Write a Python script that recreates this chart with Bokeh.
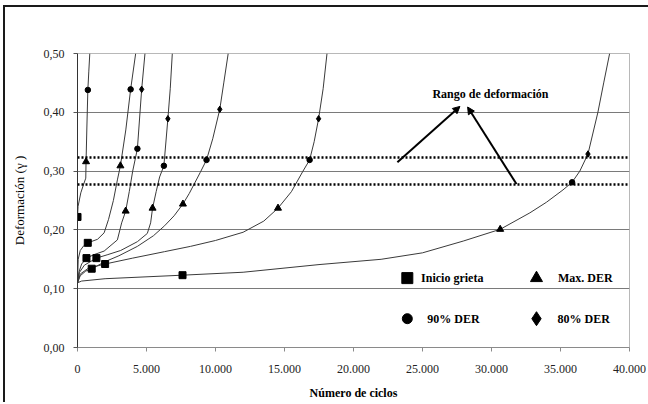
from bokeh.plotting import figure
from bokeh.models import Range1d, FixedTicker, Span, Arrow, NormalHead
from bokeh.core.properties import value
from bokeh.embed import file_html
from bokeh.resources import INLINE

# ---------------- data ----------------
x_ticks = [0, 5000, 10000, 15000, 20000, 25000, 30000, 35000, 40000]
x_tick_labels = ["0", "5.000", "10.000", "15.000", "20.000", "25.000", "30.000", "35.000", "40.000"]
y_ticks = [0.0, 0.1, 0.2, 0.3, 0.4, 0.5]
y_tick_labels = ["0,00", "0,10", "0,20", "0,30", "0,40", "0,50"]

curve_a_x = [0, 0, 40, 240, 450, 600, 620, 680, 750, 820, 890]
curve_a_y = [0.110, 0.222, 0.240, 0.263, 0.278, 0.288, 0.316, 0.375, 0.438, 0.470, 0.500]
curve_b_x = [0, 50, 200, 450, 745, 1450, 1930, 2250, 2600, 2890, 3110, 3500, 3850, 4215]
curve_b_y = [0.110, 0.150, 0.165, 0.173, 0.178, 0.184, 0.195, 0.218, 0.250, 0.285, 0.309, 0.370, 0.439, 0.500]
curve_c_x = [0, 100, 300, 650, 1200, 1930, 2890, 3200, 3490, 3750, 4000, 4340, 4650, 4890]
curve_c_y = [0.110, 0.128, 0.142, 0.152, 0.158, 0.164, 0.183, 0.212, 0.232, 0.265, 0.300, 0.338, 0.439, 0.500]
curve_d_x = [0, 150, 500, 1370, 2200, 3130, 4340, 5060, 5300, 5440, 5700, 5950, 6260, 6550, 6720, 6870]
curve_d_y = [0.110, 0.128, 0.140, 0.152, 0.158, 0.165, 0.180, 0.194, 0.212, 0.237, 0.265, 0.290, 0.309, 0.389, 0.440, 0.500]
curve_e_x = [0, 200, 600, 1030, 2000, 3000, 4340, 5500, 6310, 7000, 7640, 8100, 8500, 8900, 9350, 9800, 10310, 10600, 10920]
curve_e_y = [0.110, 0.122, 0.130, 0.134, 0.146, 0.156, 0.172, 0.190, 0.207, 0.224, 0.244, 0.262, 0.280, 0.298, 0.319, 0.355, 0.405, 0.450, 0.500]
curve_f_x = [0, 200, 800, 2000, 4000, 6310, 8190, 10000, 12000, 13500, 14530, 15500, 16340, 16820, 17150, 17470, 17800, 18080]
curve_f_y = [0.110, 0.125, 0.135, 0.142, 0.152, 0.163, 0.172, 0.182, 0.196, 0.215, 0.237, 0.265, 0.300, 0.319, 0.350, 0.389, 0.440, 0.500]
curve_g_x = [0, 300, 2000, 7610, 12000, 17500, 22000, 25000, 27950, 30630, 32780, 33980, 35180, 35840, 36400, 36990, 37710, 38130, 38560]
curve_g_y = [0.110, 0.113, 0.117, 0.123, 0.128, 0.141, 0.150, 0.161, 0.181, 0.201, 0.229, 0.247, 0.268, 0.281, 0.300, 0.329, 0.400, 0.450, 0.500]

crack_x = [0, 745, 650, 1370, 1030, 2000, 7610]            # Inicio grieta
crack_y = [0.222, 0.178, 0.152, 0.152, 0.134, 0.142, 0.123]
maxder_x = [620, 3110, 3490, 5440, 7640, 14530, 30630]     # Max. DER
maxder_y = [0.316, 0.309, 0.232, 0.237, 0.244, 0.237, 0.201]
der90_x = [750, 3850, 4340, 6260, 9350, 16820, 35840]      # 90% DER
der90_y = [0.438, 0.439, 0.338, 0.309, 0.319, 0.319, 0.281]
der80_x = [4650, 6550, 10310, 17470, 36990]                # 80% DER
der80_y = [0.439, 0.389, 0.405, 0.389, 0.329]

range_limits = [0.323, 0.277]
range_title = "Rango de deformación"
legend_labels = ["Inicio grieta", "Max. DER", "90% DER", "80% DER"]

# ---------------- figure ----------------
SERIF = "Liberation Serif"

p = figure(width=648, height=402, output_backend="svg", toolbar_location=None,
           x_range=Range1d(0, 40000), y_range=Range1d(0, 0.5),
           min_border_left=77, min_border_right=19, min_border_top=53, min_border_bottom=53)
# outer chart border (only left and top edges visible in the reference)
p.styles = {"background": "linear-gradient(#1a1a1a, #1a1a1a) 3px 5px / 2px 100% no-repeat, "
                          "linear-gradient(#1a1a1a, #1a1a1a) 3px 5px / 100% 2px no-repeat, #ffffff"}

p.background_fill_color = "white"
p.border_fill_color = None
p.outline_line_color = "#b8b8b8"
p.outline_line_width = 1

p.xgrid.grid_line_color = None
p.ygrid.grid_line_color = "#7a7a7a"
p.ygrid.grid_line_width = 1
p.ygrid.ticker = FixedTicker(ticks=y_ticks[1:-1])

p.xaxis.ticker = FixedTicker(ticks=x_ticks)
p.xaxis.major_label_overrides = {t: l for t, l in zip(x_ticks, x_tick_labels)}
p.yaxis.ticker = FixedTicker(ticks=y_ticks)
p.yaxis.major_label_overrides = {t: l for t, l in zip(y_ticks, y_tick_labels)}

for ax in (p.xaxis, p.yaxis):
    ax.major_label_text_font = SERIF
    ax.major_label_text_font_size = "12px"
    ax.major_label_text_color = "#222222"
    ax.minor_tick_line_color = None
    ax.major_tick_in = 0
    ax.major_tick_out = 4
    ax.axis_label_text_font = SERIF
    ax.axis_label_text_color = "black"

p.xaxis.axis_line_color = "#8a8a8a"
p.xaxis.major_tick_line_color = "#8a8a8a"
p.yaxis.axis_line_color = "#333333"
p.yaxis.major_tick_line_color = "#555555"
p.xaxis.major_label_standoff = 13
p.yaxis.major_label_standoff = 9

p.xaxis.axis_label = "Número de ciclos"
p.xaxis.axis_label_text_font_style = "bold"
p.xaxis.axis_label_text_font_size = "12px"
p.xaxis.axis_label_standoff = 10
p.yaxis.axis_label = "Deformación (γ )"
p.yaxis.axis_label_text_font_style = "normal"
p.yaxis.axis_label_text_font_size = "13px"
p.yaxis.axis_label_standoff = 14

# curves
for cx, cy in [(curve_a_x, curve_a_y), (curve_b_x, curve_b_y), (curve_c_x, curve_c_y),
               (curve_d_x, curve_d_y), (curve_e_x, curve_e_y), (curve_f_x, curve_f_y),
               (curve_g_x, curve_g_y)]:
    p.line(cx, cy, line_color="#3a3a3a", line_width=1)

# range lines
for yv in range_limits:
    p.add_layout(Span(location=yv, dimension="width", line_color="black",
                      line_width=2.5, line_dash="2 2"))

# markers on curves
p.scatter(crack_x, crack_y, marker="square", size=7, color="black")
p.scatter(maxder_x, maxder_y, marker="triangle", size=7, color="black")
p.scatter(der90_x, der90_y, marker="circle", size=5.5, color="black")
p.scatter(der80_x, der80_y, marker="diamond", size=6.5, color="black")

# arrows and title of range
head = dict(size=7, fill_color="black", line_color="black")
p.add_layout(Arrow(end=NormalHead(**head), x_start=23180, y_start=0.315, x_end=27710, y_end=0.410,
                   line_width=2, line_color="black"))
p.add_layout(Arrow(end=NormalHead(**head), x_start=31810, y_start=0.278, x_end=28270, y_end=0.409,
                   line_width=2, line_color="black"))
p.text(x=[29920], y=[0.431], text=[range_title], text_font=value(SERIF), text_font_style="bold",
       text_font_size="12px", text_align="center", text_baseline="middle", text_color="black")

# legend (drawn inside plot)
leg_mx = [23900, 33260, 23900, 33260]
leg_my = [0.118, 0.118, 0.049, 0.049]
leg_markers = ["square", "triangle", "circle", "diamond"]
leg_sizes = [11, 12, 10, 14]
for mx, my, mk, sz in zip(leg_mx, leg_my, leg_markers, leg_sizes):
    p.scatter([mx], [my], marker=mk, size=sz, color="black")
leg_tx = [24900, 34820, 25350, 34780]
p.text(x=leg_tx, y=leg_my, text=legend_labels, text_font=value(SERIF), text_font_style="bold",
       text_font_size="12px", text_align="left", text_baseline="middle", text_color="black")

open("out.html", "w").write(file_html(p, INLINE))
